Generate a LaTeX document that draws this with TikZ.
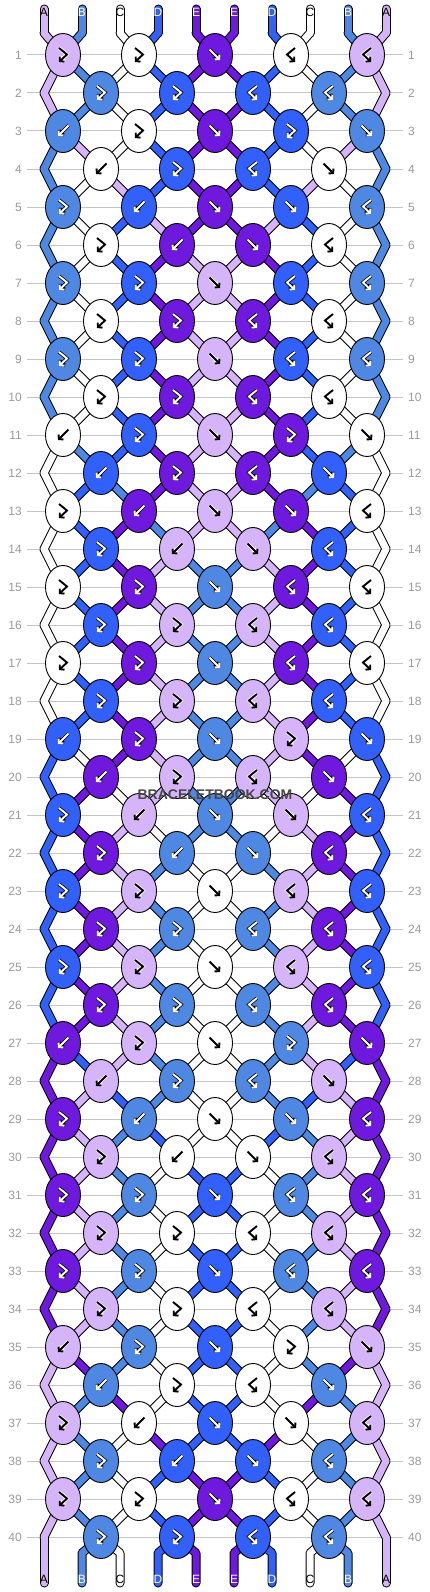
\documentclass[tikz,border=0pt]{standalone}
\usepackage{fontspec}
\setsansfont{Liberation Sans}
\usetikzlibrary{shapes.geometric,arrows.meta}
\definecolor{cA}{HTML}{D6B4FA}
\definecolor{cB}{HTML}{4F88E3}
\definecolor{cC}{HTML}{FFFFFF}
\definecolor{cD}{HTML}{3160FA}
\definecolor{cE}{HTML}{6F18DE}
\definecolor{gridgray}{HTML}{C4C4C4}
\definecolor{numgray}{HTML}{9A9A9A}
\def\fgA{black}\def\fgB{white}\def\fgC{black}\def\fgD{white}\def\fgE{white}
\def\olA{white}\def\olB{black}\def\olC{white}\def\olD{black}\def\olE{black}
\def\patA{F,F,f,B,B}
\def\patB{F,F,B,B}
\def\patC{b,F,f,F,f}
\def\patD{b,F,B,f}
\def\patE{F,b,f,f,B}
\def\patF{F,b,f,B}
\def\rowpats{1/A,2/B,3/C,4/D,5/E,6/F,7/A,8/B,9/A,10/B,11/C,12/D,13/E,14/F,15/A,16/B,17/A,18/B,19/C,20/D,21/E,22/F,23/A,24/B,25/A,26/B,27/C,28/D,29/E,30/F,31/A,32/B,33/A,34/B,35/C,36/D,37/E,38/F,39/A,40/B}
\newif\ifswap
\newcommand\xposcalc[2]{%
  \pgfmathtruncatemacro\isodd{mod(#1,2)}%
  \ifnum\isodd=1
    \pgfmathsetmacro\xp{63+76*floor((#2-1)/2)}%
  \else
    \ifnum#2=1
      \def\xp{44}%
    \else
      \ifnum#2=10
        \def\xp{386}%
      \else
        \pgfmathsetmacro\xp{101+76*(floor(#2/2)-1)}%
      \fi
    \fi
  \fi}
\begin{document}
\begin{tikzpicture}[x=1pt,y=-1pt,
  knot/.style={ellipse, draw=black, line width=0.9pt, inner sep=0pt, minimum width=35pt, minimum height=43pt},
  bandblack/.style={line width=9pt, draw=black, line cap=round, line join=round},
  bandcol/.style={line width=7pt, line cap=round, line join=round},
  gridline/.style={draw=gridgray, line width=1pt},
  rownum/.style={font=\sffamily\fontsize{12}{12}\selectfont, text=numgray, inner sep=0pt},
  strlabel/.style={font=\sffamily\fontsize{12}{12}\selectfont, inner sep=0pt},
  glyphO/.style={line width=3.4pt, -{Straight Barb[length=3pt,width=7pt]}},
  glyphI/.style={line width=1.9pt, -{Straight Barb[length=3pt,width=7pt]}},
  wmark/.style={font=\sffamily\bfseries\fontsize{14}{14}\selectfont, text=black!72, inner sep=0pt}]
\useasboundingbox (0,0) rectangle (430,1592);
\fill[white] (0,0) rectangle (430,1592);
% ---------- pass 1: simulate the strings ----------
\foreach \pp/\s in {1/A,2/B,3/C,4/D,5/E,6/E,7/D,8/C,9/B,10/A}{
  \expandafter\xdef\csname sp\pp\endcsname{\s}
}
\foreach \rr/\pat in \rowpats {
  \foreach \pp in {1,...,10}{
    \expandafter\xdef\csname segc-\rr-\pp\endcsname{\csname sp\pp\endcsname}
  }
  \edef\types{\csname pat\pat\endcsname}
  \foreach \ty [count=\kk] in \types {
    \pgfmathtruncatemacro\isodd{mod(\rr,2)}
    \ifnum\isodd=1
      \pgfmathtruncatemacro\pa{2*\kk-1}
    \else
      \pgfmathtruncatemacro\pa{2*\kk}
    \fi
    \pgfmathtruncatemacro\pb{\pa+1}
    \edef\sL{\csname sp\pa\endcsname}
    \edef\sR{\csname sp\pb\endcsname}
    \swapfalse
    \if\ty f\edef\kc{\sL}\swaptrue\fi
    \if\ty F\edef\kc{\sL}\fi
    \if\ty b\edef\kc{\sR}\swaptrue\fi
    \if\ty B\edef\kc{\sR}\fi
    \ifswap
      \expandafter\xdef\csname sp\pa\endcsname{\sR}
      \expandafter\xdef\csname sp\pb\endcsname{\sL}
    \fi
    \expandafter\xdef\csname kc-\rr-\kk\endcsname{\kc}
    \expandafter\xdef\csname kt-\rr-\kk\endcsname{\ty}
  }
}
% ---------- coordinates ----------
\foreach \pp in {1,...,10}{
  \pgfmathsetmacro\xt{44+38*(\pp-1)}
  \coordinate (top-\pp) at (\xt,9);
  \coordinate (q-0-\pp) at (\xt,33);
  \coordinate (bb-\pp) at (\xt,1553);
  \coordinate (bot-\pp) at (\xt,1583);
}
\foreach \rr/\pat in \rowpats {
  \pgfmathsetmacro\yy{55+38*(\rr-1)}
  \draw[gridline] (27,\yy) -- (403,\yy);
  \node[rownum, anchor=east] (nl-\rr) at (22,\yy) {\rr};
  \node[rownum, anchor=west] (nr-\rr) at (408,\yy) {\rr};
  \foreach \pp in {1,...,10}{
    \xposcalc{\rr}{\pp}
    \coordinate (q-\rr-\pp) at (\xp,\yy);
  }
}
% ---------- black outlines of the strings ----------
\foreach \pp in {1,...,10}{
  \draw[bandblack] (top-\pp) -- (q-0-\pp);
  \draw[bandblack] (q-40-\pp) -- (bb-\pp) -- (bot-\pp);
}
\foreach \rr/\pat in \rowpats {
  \pgfmathtruncatemacro\rprev{\rr-1}
  \foreach \pp in {1,...,10}{
    \draw[bandblack] (q-\rprev-\pp) -- (q-\rr-\pp);
  }
}
% ---------- coloured strings ----------
\foreach \pp/\s in {1/A,2/B,3/C,4/D,5/E,6/E,7/D,8/C,9/B,10/A}{
  \draw[bandcol, draw=c\s] (top-\pp) -- (q-0-\pp);
  \edef\scol{\csname sp\pp\endcsname}
  \draw[bandcol, draw=c\scol] (q-40-\pp) -- (bb-\pp) -- (bot-\pp);
}
\foreach \rr/\pat in \rowpats {
  \pgfmathtruncatemacro\rprev{\rr-1}
  \foreach \pp in {1,...,10}{
    \edef\scol{\csname segc-\rr-\pp\endcsname}
    \draw[bandcol, draw=c\scol] (q-\rprev-\pp) -- (q-\rr-\pp);
  }
}
% ---------- string labels ----------
\foreach \pp/\s in {1/A,2/B,3/C,4/D,5/E,6/E,7/D,8/C,9/B,10/A}{
  \pgfmathsetmacro\xt{44+38*(\pp-1)}
  \node[strlabel, text=\csname fg\s\endcsname] (lt-\pp) at (\xt,12.5) {\s};
  \node[strlabel, text=\csname fg\s\endcsname] (lb-\pp) at (\xt,1579.5) {\s};
}
% ---------- knots ----------
\foreach \rr/\pat in \rowpats {
  \pgfmathsetmacro\yy{55+38*(\rr-1)}
  \pgfmathtruncatemacro\isodd{mod(\rr,2)}
  \edef\types{\csname pat\pat\endcsname}
  \foreach \ty [count=\kk] in \types {
    \ifnum\isodd=1
      \pgfmathsetmacro\kx{63+76*(\kk-1)}
    \else
      \pgfmathsetmacro\kx{101+76*(\kk-1)}
    \fi
    \edef\kc{\csname kc-\rr-\kk\endcsname}
    \if\ty f\def\gp{(-5.5,-5.5) -- (5,5)}\fi
    \if\ty F\def\gp{(-4,-7) -- (4,-0.5) -- (-4,7)}\fi
    \if\ty b\def\gp{(5.5,-5.5) -- (-5,5)}\fi
    \if\ty B\def\gp{(4,-7) -- (-4,-0.5) -- (4,7)}\fi
    \edef\fgc{\csname fg\kc\endcsname}
    \edef\olc{\csname ol\kc\endcsname}
    \node[knot, fill=c\kc] (k-\rr-\kk) at (\kx,\yy) {};
    \begin{scope}[shift={(k-\rr-\kk.center)}]
      \draw[glyphO, draw=\olc] \gp;
      \draw[glyphI, draw=\fgc] \gp;
    \end{scope}
  }
}
\node[wmark] (wm) at (215,795) {BRACELETBOOK.COM};
\end{tikzpicture}
\end{document}
